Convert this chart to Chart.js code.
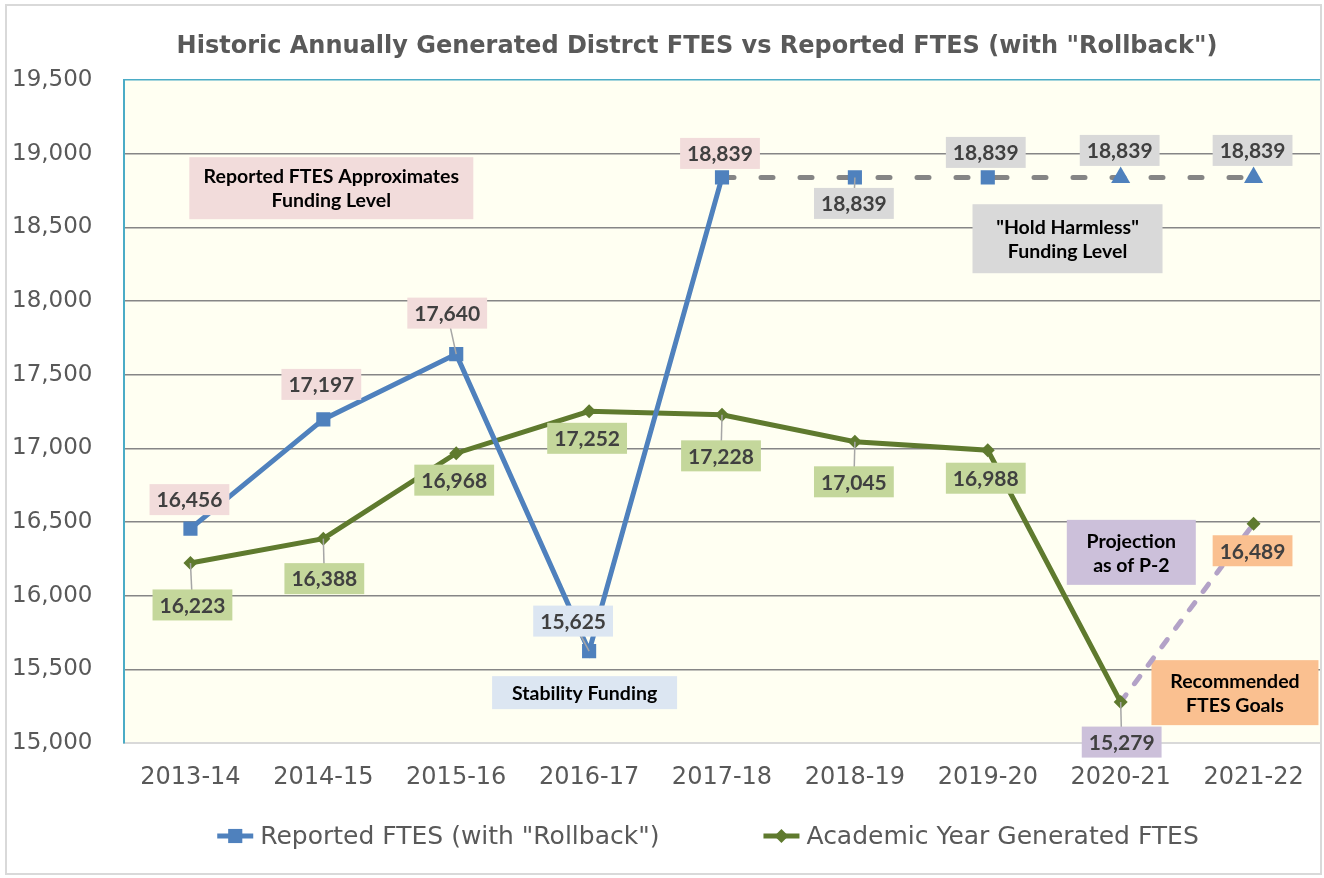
<!DOCTYPE html>
<html>
<head>
<meta charset="utf-8">
<script src="https://cdn.jsdelivr.net/npm/chart.js@4"></script>
<style>
  html, body { margin: 0; padding: 0; background: #fff; }
  #box { width: 1324px; height: 878px; position: relative; }
</style>
</head>
<body>
<div id="box"><canvas id="line-chart"></canvas></div>
<script>
// data
var years = ["2013-14", "2014-15", "2015-16", "2016-17", "2017-18", "2018-19", "2019-20", "2020-21", "2021-22"];
var reportedFtes = [16456, 17197, 17640, 15625, 18839, 18839, 18839, 18839, 18839];
var generatedFtes = [16223, 16388, 16968, 17252, 17228, 17045, 16988, 15279, 16489];
var yMin = 15000, yMax = 19500, yStep = 500;

var blue = "#4F81BD", green = "#5F7A2E", dashGray = "#858585", lilac = "#B3A2C7";
var pink = "#F2DCDB", paleBlue = "#DCE6F2", gray = "#D9D9D9", sage = "#C4D79B", purple = "#CCC0DA", peach = "#FAC090";

// label box colour and placement (dx, dy from the point, leader line?)
var reportedLabels = [
  [pink, -1, -29, 0], [pink, -2, -35, 0], [pink, -9, -41, 1], [paleBlue, -16, -30, 1], [pink, -2, -24, 0],
  [gray, -1, 26, 1], [gray, -2, -25, 0], [gray, -1, -27, 0], [gray, -1, -27, 0]
];
var generatedLabels = [
  [sage, 2, 42, 1], [sage, 1, 40, 1], [sage, -2, 27, 0], [sage, -2, 27, 0], [sage, -1, 41, 1],
  [sage, -1, 40, 1], [sage, -2, 28, 0], [purple, 1, 40, 1], [peach, -1, 27, 0]
];

// call-out boxes, placed in data units
var notes = [
  { lines: ["Reported FTES Approximates", "Funding Level"], x: 1.06, y: 18766, w: 284, h: 62, fill: pink },
  { lines: ['"Hold Harmless"', "Funding Level"], x: 6.6, y: 18423, w: 190, h: 69, fill: gray },
  { lines: ["Stability Funding"], x: 2.966, y: 15343, w: 185, h: 33, fill: paleBlue },
  { lines: ["Projection", "as of P-2"], x: 7.08, y: 16295, w: 129, h: 65, fill: purple },
  { lines: ["Recommended", "FTES Goals"], x: 7.86, y: 15343, w: 167, h: 65, fill: peach }
];

var fmt = function (v) { return Number(v).toLocaleString("en-US"); };

var extras = {
  id: "extras",
  beforeDraw: function (chart) {
    var ctx = chart.ctx, a = chart.chartArea;
    ctx.save();
    ctx.fillStyle = "#FFFFF2";
    ctx.fillRect(a.left, a.top, a.right - a.left, a.bottom - a.top);
    ctx.restore();
  },
  beforeDatasetsDraw: function (chart) {
    var ctx = chart.ctx, xs = chart.scales.x, ys = chart.scales.y;
    ctx.save();
    ctx.font = "bold 19.5px Lato";
    ctx.textAlign = "center";
    ctx.textBaseline = "middle";
    notes.forEach(function (n) {
      var cx = xs.getPixelForValue(n.x), cy = ys.getPixelForValue(n.y);
      ctx.fillStyle = n.fill;
      ctx.fillRect(cx - n.w / 2, cy - n.h / 2, n.w, n.h);
      ctx.fillStyle = "#000";
      var lh = 24, y0 = cy - (n.lines.length - 1) * lh / 2;
      n.lines.forEach(function (t, i) { ctx.fillText(t, cx, y0 + i * lh + 1); });
    });
    ctx.restore();
  },
  afterDatasetsDraw: function (chart) {
    var ctx = chart.ctx;
    ctx.save();
    ctx.font = "bold 21px Lato";
    ctx.textAlign = "center";
    ctx.textBaseline = "middle";
    [reportedLabels, generatedLabels].forEach(function (spec, di) {
      var meta = chart.getDatasetMeta(di);
      var vals = chart.data.datasets[di].data;
      meta.data.forEach(function (pt, i) {
        var s = spec[i], txt = fmt(vals[i]);
        var w = ctx.measureText(txt).width + 14, h = 31;
        var cx = pt.x + s[1], cy = pt.y + s[2];
        if (s[3]) {
          ctx.strokeStyle = "#A6A6A6";
          ctx.lineWidth = 1.5;
          ctx.beginPath();
          ctx.moveTo(pt.x, pt.y);
          ctx.lineTo(cx, cy);
          ctx.stroke();
        }
        ctx.fillStyle = s[0];
        ctx.fillRect(cx - w / 2, cy - h / 2, w, h);
        ctx.fillStyle = "#404040";
        ctx.fillText(txt, cx, cy + 1);
      });
    });
    ctx.restore();
  },
  afterDraw: function (chart) {
    var ctx = chart.ctx;
    ctx.save();
    // title
    ctx.font = "bold 24px 'DejaVu Sans'";
    ctx.fillStyle = "#595959";
    ctx.textAlign = "center";
    ctx.textBaseline = "middle";
    ctx.fillText('Historic Annually Generated Distrct FTES vs Reported FTES (with "Rollback")', 697, 47);

    // legend
    ctx.font = "25px 'DejaVu Sans'";
    ctx.textAlign = "left";
    var items = chart.data.datasets.map(function (d, i) {
      return { text: d.label, color: i === 0 ? blue : green, style: i === 0 ? "rect" : "rectRot", r: i === 0 ? 10 : 7 };
    });
    var gap = 104, sw = 36, tg = 7;
    var total = 0;
    items.forEach(function (it) { it.w = sw + tg + ctx.measureText(it.text).width; total += it.w; });
    total += gap * (items.length - 1);
    var x = 708 - total / 2, y = 836;
    items.forEach(function (it) {
      ctx.strokeStyle = it.color;
      ctx.lineWidth = 5;
      ctx.beginPath();
      ctx.moveTo(x, y);
      ctx.lineTo(x + sw, y);
      ctx.stroke();
      ctx.fillStyle = it.color;
      ctx.strokeStyle = it.color;
      ctx.lineWidth = 0;
      Chart.helpers.drawPoint(ctx, { pointStyle: it.style, radius: it.r, rotation: 0, borderWidth: 0 }, x + sw / 2, y);
      ctx.fillStyle = "#595959";
      ctx.fillText(it.text, x + sw + tg, y + 1);
      x += it.w + gap;
    });

    // outer frame
    ctx.strokeStyle = "#D9D9D9";
    ctx.lineWidth = 2;
    ctx.strokeRect(6, 5, 1315, 869);
    ctx.restore();
  }
};

new Chart(document.getElementById("line-chart"), {
  type: "line",
  data: {
    labels: years,
    datasets: [{
      label: 'Reported FTES (with "Rollback")',
      data: reportedFtes,
      borderColor: blue,
      backgroundColor: blue,
      borderWidth: 5,
      pointStyle: ["rect", "rect", "rect", "rect", "rect", "rect", "rect", "triangle", "triangle"],
      pointRadius: [10, 10, 10, 10, 10, 10, 10, 11, 11],
      pointBorderWidth: 0,
      pointBackgroundColor: blue,
      fill: false,
      tension: 0,
      segment: {
        borderColor: function (c) { return c.p0DataIndex >= 4 ? dashGray : blue; },
        borderDash: function (c) { return c.p0DataIndex >= 4 ? [12, 27] : undefined; },
        borderCapStyle: function (c) { return c.p0DataIndex >= 4 ? "round" : "butt"; }
      }
    }, {
      label: "Academic Year Generated FTES",
      data: generatedFtes,
      borderColor: green,
      backgroundColor: green,
      borderWidth: 5,
      pointStyle: "rectRot",
      pointRadius: 7,
      pointBorderWidth: 0,
      pointBackgroundColor: green,
      fill: false,
      tension: 0,
      segment: {
        borderColor: function (c) { return c.p0DataIndex >= 7 ? lilac : green; },
        borderDash: function (c) { return c.p0DataIndex >= 7 ? [9, 14] : undefined; },
        borderCapStyle: function (c) { return c.p0DataIndex >= 7 ? "round" : "butt"; }
      }
    }]
  },
  options: {
    responsive: true,
    maintainAspectRatio: false,
    animation: false,
    layout: { autoPadding: false, padding: { top: 80, left: 12, right: 4, bottom: 66 } },
    plugins: {
      legend: { display: false },
      title: { display: false },
      tooltip: { enabled: false }
    },
    scales: {
      x: {
        offset: true,
        afterFit: function (s) { s.paddingLeft = 0; s.paddingRight = 0; },
        grid: { display: false, drawTicks: false },
        border: { color: "#D9D9D9", width: 2 },
        ticks: { color: "#595959", font: { family: "DejaVu Sans", size: 24 }, padding: 20, maxRotation: 0 }
      },
      y: {
        min: yMin,
        max: yMax,
        afterFit: function (s) { s.width = 112; },
        grid: {
          drawTicks: false,
          lineWidth: 1.5,
          color: function (c) { return c.tick && c.tick.value === yMax ? "#4BACC6" : (c.tick && c.tick.value === yMin ? "#D9D9D9" : "#868686"); }
        },
        border: { color: "#4BACC6", width: 2 },
        ticks: {
          stepSize: yStep,
          crossAlign: "far",
          color: "#595959",
          font: { family: "DejaVu Sans", size: 23 },
          callback: function (v) { return fmt(v); }
        }
      }
    }
  },
  plugins: [extras]
});
</script>
</body>
</html>
